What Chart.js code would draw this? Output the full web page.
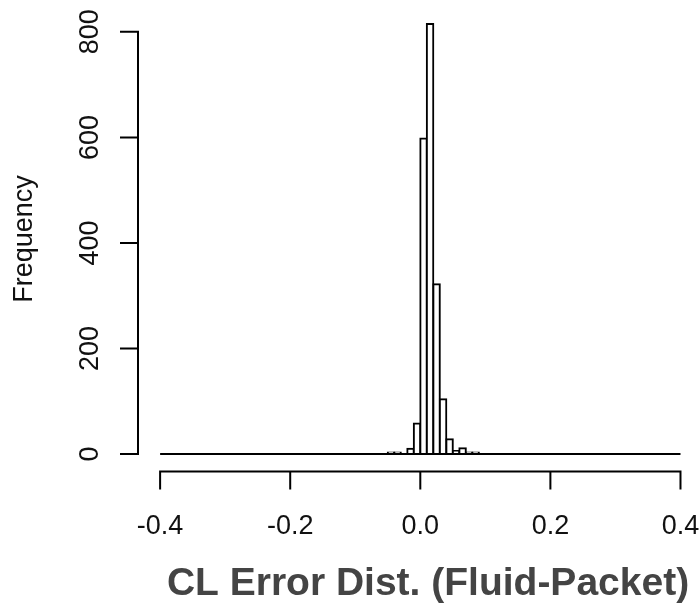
<!DOCTYPE html>
<html>
<head>
<meta charset="utf-8">
<title>CL Error Dist. (Fluid-Packet)</title>
<script src="https://cdn.jsdelivr.net/npm/chart.js@4.4.0/dist/chart.umd.min.js"></script>
<style>
    html, body { margin: 0; padding: 0; background: #fff; }
    #wrap { width: 700px; height: 604px; position: relative; }
</style>
</head>
<body>
<div id="wrap"><canvas id="hist"></canvas></div>
<script>
/* Histogram of CL error, R-style base graphics look */

const BIN_WIDTH = 0.01;
// left edge of each non-empty region bin, and its count
const binStarts = [-0.05, -0.04, -0.03, -0.02, -0.01, 0.00, 0.01, 0.02, 0.03, 0.04, 0.05, 0.06, 0.07, 0.08];
const binCounts = [3, 3, 0, 10, 58, 598, 815, 322, 104, 28, 6, 11, 3, 3];
// full histogram range (empty bins drawn as a flat line)
const histRange = [-0.4, 0.4];

const xTicks = [-0.4, -0.2, 0, 0.2, 0.4];
const xTickLabels = ['-0.4', '-0.2', '0.0', '0.2', '0.4'];
const yTicks = [0, 200, 400, 600, 800];
const yTickLabels = ['0', '200', '400', '600', '800'];

const xTitle = 'CL Error Dist. (Fluid-Packet)';
const yTitle = 'Frequency';

const FONT = '"Liberation Sans", Arial, Helvetica, sans-serif';
const TICK_LEN = 17;

// ── R-style axes: line spans first..last tick, ticks point outward ──────
const rAxes = {
    id: 'rAxes',
    afterDraw(chart) {
        const ctx = chart.ctx;
        const xs = chart.scales.x;
        const ys = chart.scales.y;
        const area = chart.chartArea;

        ctx.save();
        ctx.strokeStyle = '#000';
        ctx.lineWidth = 2;
        ctx.lineCap = 'square';

        // x axis along bottom of plot region
        const ax = area.bottom;
        ctx.beginPath();
        ctx.moveTo(xs.getPixelForValue(xTicks[0]), ax);
        ctx.lineTo(xs.getPixelForValue(xTicks[xTicks.length - 1]), ax);
        xTicks.forEach(v => {
            const px = xs.getPixelForValue(v);
            ctx.moveTo(px, ax);
            ctx.lineTo(px, ax + TICK_LEN);
        });
        ctx.stroke();

        // y axis along left of plot region
        const ay = area.left;
        ctx.beginPath();
        ctx.moveTo(ay, ys.getPixelForValue(yTicks[0]));
        ctx.lineTo(ay, ys.getPixelForValue(yTicks[yTicks.length - 1]));
        yTicks.forEach(v => {
            const py = ys.getPixelForValue(v);
            ctx.moveTo(ay, py);
            ctx.lineTo(ay - TICK_LEN, py);
        });
        ctx.stroke();

        // tick labels
        ctx.fillStyle = '#111';
        ctx.font = '27px ' + FONT;
        ctx.textAlign = 'center';
        ctx.textBaseline = 'middle';
        xTicks.forEach((v, i) => {
            ctx.fillText(xTickLabels[i], xs.getPixelForValue(v), ax + 55);
        });
        yTicks.forEach((v, i) => {
            ctx.save();
            ctx.translate(ay - 47, ys.getPixelForValue(v));
            ctx.rotate(-Math.PI / 2);
            ctx.fillText(yTickLabels[i], 0, 0);
            ctx.restore();
        });

        // axis titles
        ctx.save();
        ctx.translate(25, (area.top + area.bottom) / 2);
        ctx.rotate(-Math.PI / 2);
        ctx.fillText(yTitle, 0, 0);
        ctx.restore();

        ctx.fillStyle = '#444';
        ctx.font = 'bold 39px ' + FONT;
        ctx.fillText(xTitle, 428, 584);

        ctx.restore();
    }
};

const barPoints = binStarts.map((s, i) => ({ x: s + BIN_WIDTH / 2, y: binCounts[i] }));
const basePoints = histRange.map(x => ({ x, y: 0 }));

new Chart(document.getElementById('hist'), {
    type: 'bar',
    data: {
        datasets: [
            {
                type: 'bar',
                data: barPoints,
                backgroundColor: '#fff',
                borderColor: '#000',
                borderWidth: 2,
                inflateAmount: 1,
                barPercentage: 1,
                categoryPercentage: 1,
                order: 1,
            },
            {
                type: 'line',
                data: basePoints,
                borderColor: '#000',
                borderWidth: 2,
                pointRadius: 0,
                fill: false,
                order: 0,
            },
        ],
    },
    options: {
        responsive: true,
        maintainAspectRatio: false,
        animation: false,
        events: [],
        layout: { padding: { left: 138, top: 6.5, right: 0, bottom: 132.5 } },
        plugins: {
            legend: { display: false },
            tooltip: { enabled: false },
        },
        scales: {
            x: { type: 'linear', min: -0.434, max: 0.43, offset: false, bounds: 'data', display: false },
            y: { type: 'linear', min: -33, max: 848, offset: false, bounds: 'data', display: false },
        },
    },
    plugins: [rAxes],
});
</script>
</body>
</html>
